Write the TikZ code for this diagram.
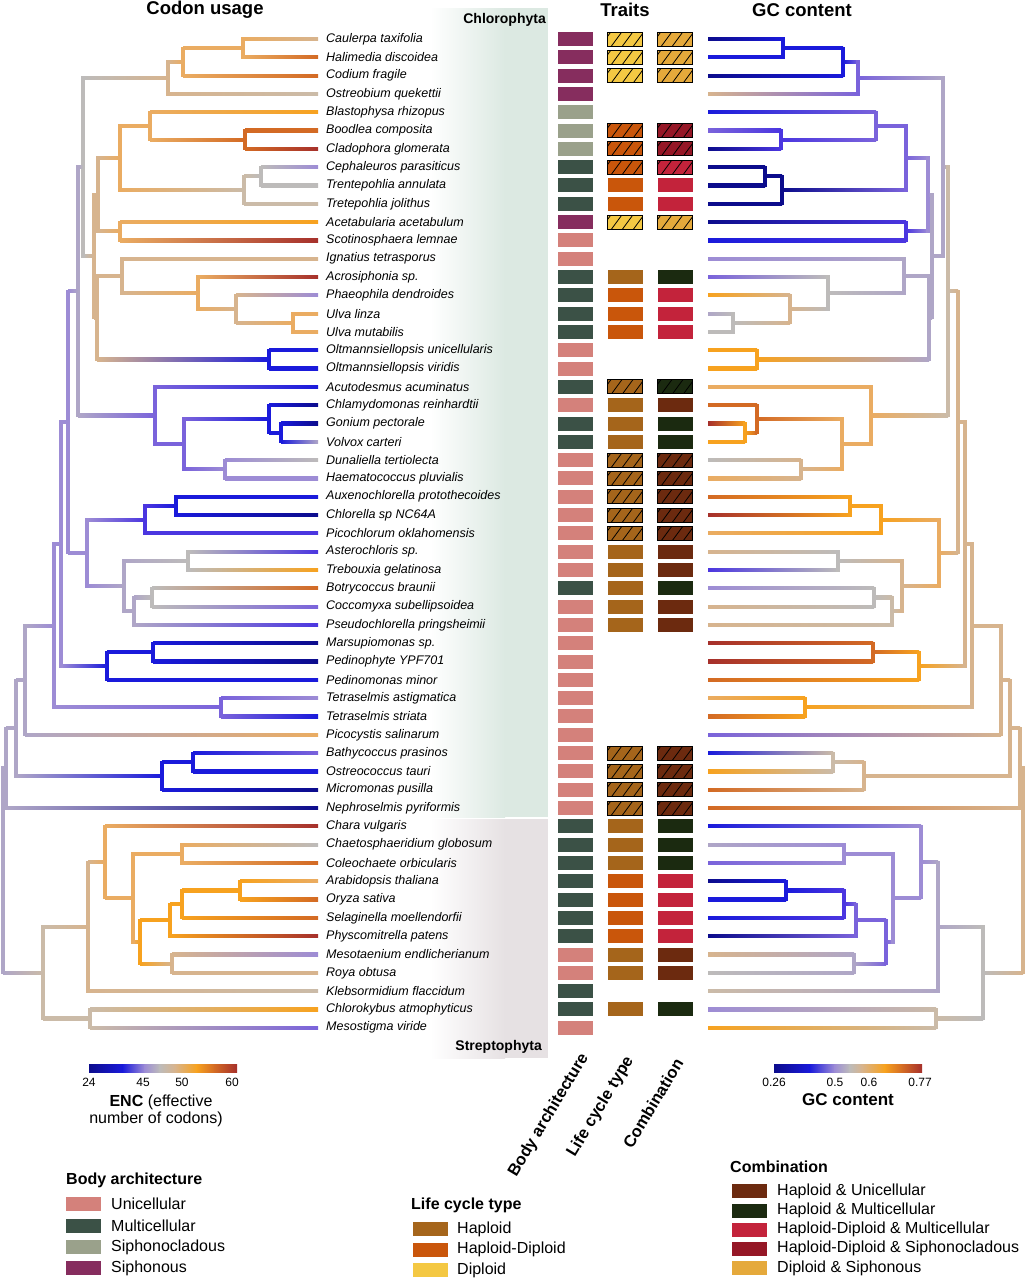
\documentclass[tikz,border=0pt]{standalone}
\usepackage{fontspec}
\setmainfont{Liberation Sans}
\usetikzlibrary{calc}
% palette
\definecolor{pNV}{HTML}{0C0C8C}
\definecolor{pBL}{HTML}{1A1ADB}
\definecolor{pVB}{HTML}{4B36E0}
\definecolor{pVI}{HTML}{7A63DB}
\definecolor{pPU}{HTML}{9D8CD5}
\definecolor{pLV}{HTML}{AFA6C7}
\definecolor{pGY}{HTML}{BDBBBA}
\definecolor{pGT}{HTML}{CBBBA8}
\definecolor{pTN}{HTML}{D7B48E}
\definecolor{pLO}{HTML}{EAAC62}
\definecolor{pOR}{HTML}{F7A21F}
\definecolor{pDO}{HTML}{D36A24}
\definecolor{pRD}{HTML}{A6302B}
% traits
\definecolor{bU}{HTML}{D4817B}
\definecolor{bM}{HTML}{3B5146}
\definecolor{bSc}{HTML}{9AA18B}
\definecolor{bSp}{HTML}{862D5E}
\definecolor{lH}{HTML}{A5651B}
\definecolor{lHD}{HTML}{C9560B}
\definecolor{lD}{HTML}{F4C843}
\definecolor{cHU}{HTML}{6C2A0F}
\definecolor{cHM}{HTML}{1B2A10}
\definecolor{cHDM}{HTML}{C3233B}
\definecolor{cHDS}{HTML}{951726}
\definecolor{cDS}{HTML}{E5A93B}
\definecolor{bgG}{HTML}{DCE9E2}
\definecolor{bgS}{HTML}{E6E1E3}
\newcommand\mkC[3]{\colorlet{cL#1}{#2}\colorlet{cR#1}{#3}}
% tip colours (left ENC / right GC)
\mkC{t1}{pTN}{pNV}\mkC{t2}{pDO}{pBL}\mkC{t3}{pDO}{pNV}\mkC{t4}{pGT}{pTN}
\mkC{t5}{pOR}{pBL}\mkC{t6}{pDO}{pVI}\mkC{t7}{pRD}{pNV}\mkC{t8}{pPU}{pNV}
\mkC{t9}{pGY}{pNV}\mkC{t10}{pGT}{pNV}\mkC{t11}{pOR}{pNV}\mkC{t12}{pRD}{pBL}
\mkC{t13}{pTN}{pPU}\mkC{t14}{pRD}{pVI}\mkC{t15}{pPU}{pOR}\mkC{t16}{pLO}{pLV}
\mkC{t17}{pLO}{pGY}\mkC{t18}{pBL}{pOR}\mkC{t19}{pBL}{pOR}\mkC{t20}{pBL}{pLO}
\mkC{t21}{pNV}{pDO}\mkC{t22}{pNV}{pRD}\mkC{t23}{pLV}{pOR}\mkC{t24}{pGY}{pGY}
\mkC{t25}{pPU}{pLO}\mkC{t26}{pBL}{pDO}\mkC{t27}{pNV}{pRD}\mkC{t28}{pVB}{pLO}
\mkC{t29}{pVB}{pTN}\mkC{t30}{pOR}{pVB}\mkC{t31}{pDO}{pPU}\mkC{t32}{pVI}{pTN}
\mkC{t33}{pVB}{pTN}\mkC{t34}{pNV}{pRD}\mkC{t35}{pNV}{pRD}\mkC{t36}{pBL}{pDO}
\mkC{t37}{pPU}{pLO}\mkC{t38}{pBL}{pDO}\mkC{t39}{pLO}{pVI}\mkC{t40}{pVI}{pBL}
\mkC{t41}{pBL}{pOR}\mkC{t42}{pNV}{pDO}\mkC{t43}{pNV}{pDO}\mkC{t44}{pRD}{pBL}
\mkC{t45}{pGY}{pLV}\mkC{t46}{pDO}{pVI}\mkC{t47}{pLO}{pNV}\mkC{t48}{pDO}{pBL}
\mkC{t49}{pDO}{pBL}\mkC{t50}{pRD}{pNV}\mkC{t51}{pPU}{pTN}\mkC{t52}{pTN}{pGY}
\mkC{t53}{pGT}{pGT}\mkC{t54}{pOR}{pPU}\mkC{t55}{pVI}{pOR}
% internal node colours
\mkC{A}{pLO}{pBL}\mkC{B}{pLO}{pBL}\mkC{C}{pTN}{pVI}\mkC{D}{pGY}{pLV}
\mkC{K}{pDO}{pVB}\mkC{J}{pLO}{pVI}\mkC{N}{pGY}{pNV}\mkC{M}{pGT}{pNV}
\mkC{L}{pLO}{pVI}\mkC{O}{pLO}{pVB}\mkC{F}{pTN}{pPU}\mkC{S}{pLO}{pGY}
\mkC{R}{pTN}{pTN}\mkC{Q}{pLO}{pGY}\mkC{P}{pTN}{pLV}\mkC{T}{pBL}{pOR}
\mkC{I}{pTN}{pLV}\mkC{H}{pTN}{pLV}\mkC{AG}{pBL}{pOR}\mkC{AF}{pBL}{pDO}
\mkC{AH}{pPU}{pTN}\mkC{AE}{pVI}{pLO}\mkC{V}{pVI}{pLO}\mkC{U}{pLV}{pGT}
\mkC{AJ}{pBL}{pOR}\mkC{AI}{pVB}{pOR}\mkC{AL}{pGY}{pGY}\mkC{AN}{pGY}{pGY}
\mkC{AM}{pLV}{pGT}\mkC{AK}{pLV}{pTN}\mkC{X}{pPU}{pLO}\mkC{W}{pPU}{pTN}
\mkC{AO}{pBL}{pDO}\mkC{Z}{pBL}{pOR}\mkC{Y}{pPU}{pTN}\mkC{TT}{pVI}{pOR}
\mkC{AA}{pPU}{pTN}\mkC{AB}{pLV}{pTN}\mkC{AQ}{pBL}{pGT}\mkC{AP}{pBL}{pTN}
\mkC{AC}{pLV}{pTN}\mkC{AD}{pLV}{pTN}\mkC{BK}{pOR}{pBL}\mkC{BJ}{pOR}{pVB}
\mkC{BH}{pOR}{pVI}\mkC{BI}{pTN}{pLV}\mkC{BG}{pOR}{pVI}\mkC{BF}{pLO}{pPU}
\mkC{BE}{pLO}{pPU}\mkC{BD}{pLO}{pPU}\mkC{BB}{pTN}{pLV}\mkC{BC}{pGT}{pGT}
\mkC{BA}{pGT}{pGY}\mkC{RT}{pLV}{pTN}
% helpers
\newcommand\rowy[1]{39+(#1-1)*18.31}
\newcommand\mkN[3]{\coordinate (L#1) at ({318-#2},{\rowy{#3}});\coordinate (R#1) at ({708+#2},{\rowy{#3}});}
\newcommand\mkE[2]{%
 \shade[left color=cL#1,right color=cL#2] ($(L#1|-L#2)+(0,-1.6)$) rectangle ($(L#2)+(0,1.6)$);
 \shade[left color=cR#2,right color=cR#1] ($(R#2)+(0,-1.6)$) rectangle ($(R#1|-R#2)+(0,1.6)$);}
\newcommand\mkK[3]{\mkE{#1}{#2}\mkE{#1}{#3}%
 \draw[vline,color=cL#1] (L#1|-L#2) -- (L#1|-L#3);
 \draw[vline,color=cR#1] (R#1|-R#2) -- (R#1|-R#3);}
\newcommand\mkT[2]{\mkN{t#1}{0}{#1}\node[lab] (lab#1) at (326,{\rowy{#1}}) {#2};}
\newcommand\tbBody[2]{\node[tb,fill=#2] (body#1) at (575.5,{\rowy{#1}}) {};}
\newcommand\tbLife[3]{\node[tb,fill=#2,#3] (life#1) at (625,{\rowy{#1}}) {};}
\newcommand\tbComb[3]{\node[tb,fill=#2,#3] (comb#1) at (675,{\rowy{#1}}) {};}
\newcommand\cbseg[5]{\shade[left color=#4,right color=#5] (#1,1064) rectangle (#2,1072);}
\begin{document}
\begin{tikzpicture}[x=1pt,y=-1pt,
 vline/.style={line width=3.2pt,line cap=rect},
 lab/.style={anchor=west,inner sep=0pt,font=\fontsize{12.5}{14}\selectfont\itshape},
 tb/.style={minimum width=35pt,minimum height=14pt,inner sep=0pt,draw=none},
 hat/.style={draw=black,line width=0.9pt,path picture={
   \foreach \k in {-7,4,15,26}{\draw[line width=0.8pt,black] ($(path picture bounding box.south west)+(\k,0)$) -- ++(11,-15);}}},
 head/.style={font=\fontsize{18.5}{20}\selectfont\bfseries,inner sep=0pt},
 clade/.style={font=\fontsize{14}{16}\selectfont\bfseries,inner sep=0pt,anchor=east},
 tick/.style={font=\fontsize{12}{14}\selectfont,inner sep=0pt},
 rot/.style={font=\fontsize{16.5}{18}\selectfont\bfseries,inner sep=0pt,rotate=59,anchor=east},
 lgt/.style={font=\fontsize{16}{18}\selectfont\bfseries,inner sep=0pt,anchor=west},
 lgl/.style={font=\fontsize{16}{18}\selectfont,inner sep=0pt,anchor=west},
 lgb/.style={minimum width=35pt,minimum height=14pt,inner sep=0pt,draw=none}]
\useasboundingbox (0,0) rectangle (1027,1280);
% clade backgrounds
\shade[left color=white,right color=bgG] (430,8) rectangle (505,817);
\fill[bgG] (504.5,8) rectangle (548,817);
\shade[left color=white,right color=bgS] (430,819) rectangle (505,1058);
\fill[bgS] (504.5,819) rectangle (548,1058);
\node[clade] (hchl) at (546,20) {Chlorophyta};
\node[clade] (hstr) at (542,1047) {Streptophyta};
% headers
\node[head] (hcodon) at (205,10) {Codon usage};
\node[head] (htraits) at (625,10) {Traits};
\node[head] (hgc) at (802,10) {GC content};
% tips and labels
\mkT{1}{Caulerpa taxifolia}
\mkT{2}{Halimedia discoidea}
\mkT{3}{Codium fragile}
\mkT{4}{Ostreobium quekettii}
\mkT{5}{Blastophysa rhizopus}
\mkT{6}{Boodlea composita}
\mkT{7}{Cladophora glomerata}
\mkT{8}{Cephaleuros parasiticus}
\mkT{9}{Trentepohlia annulata}
\mkT{10}{Tretepohlia jolithus}
\mkT{11}{Acetabularia acetabulum}
\mkT{12}{Scotinosphaera lemnae}
\mkT{13}{Ignatius tetrasporus}
\mkT{14}{Acrosiphonia sp.}
\mkT{15}{Phaeophila dendroides}
\mkT{16}{Ulva linza}
\mkT{17}{Ulva mutabilis}
\mkT{18}{Oltmannsiellopsis unicellularis}
\mkT{19}{Oltmannsiellopsis viridis}
\mkT{20}{Acutodesmus acuminatus}
\mkT{21}{Chlamydomonas reinhardtii}
\mkT{22}{Gonium pectorale}
\mkT{23}{Volvox carteri}
\mkT{24}{Dunaliella tertiolecta}
\mkT{25}{Haematococcus pluvialis}
\mkT{26}{Auxenochlorella protothecoides}
\mkT{27}{Chlorella sp NC64A}
\mkT{28}{Picochlorum oklahomensis}
\mkT{29}{Asterochloris sp.}
\mkT{30}{Trebouxia gelatinosa}
\mkT{31}{Botrycoccus braunii}
\mkT{32}{Coccomyxa subellipsoidea}
\mkT{33}{Pseudochlorella pringsheimii}
\mkT{34}{Marsupiomonas sp.}
\mkT{35}{Pedinophyte YPF701}
\mkT{36}{Pedinomonas minor}
\mkT{37}{Tetraselmis astigmatica}
\mkT{38}{Tetraselmis striata}
\mkT{39}{Picocystis salinarum}
\mkT{40}{Bathycoccus prasinos}
\mkT{41}{Ostreococcus tauri}
\mkT{42}{Micromonas pusilla}
\mkT{43}{Nephroselmis pyriformis}
\mkT{44}{Chara vulgaris}
\mkT{45}{Chaetosphaeridium globosum}
\mkT{46}{Coleochaete orbicularis}
\mkT{47}{Arabidopsis thaliana}
\mkT{48}{Oryza sativa}
\mkT{49}{Selaginella moellendorfii}
\mkT{50}{Physcomitrella patens}
\mkT{51}{Mesotaenium endlicherianum}
\mkT{52}{Roya obtusa}
\mkT{53}{Klebsormidium flaccidum}
\mkT{54}{Chlorokybus atmophyticus}
\mkT{55}{Mesostigma viride}
% internal nodes: name, depth, row
\mkN{A}{75}{1.5}\mkN{B}{135}{2.25}\mkN{C}{150}{3.125}
\mkN{K}{73}{6.5}\mkN{J}{168}{5.75}\mkN{N}{57}{8.5}\mkN{M}{74}{9.25}
\mkN{L}{198}{7.5}\mkN{O}{198}{11.5}\mkN{F}{220}{9.5}
\mkN{S}{25}{16.5}\mkN{R}{82}{15.75}\mkN{Q}{120}{14.875}\mkN{P}{196}{13.9375}
\mkN{T}{49}{18.5}\mkN{I}{221}{16.21875}\mkN{H}{224}{12.859375}\mkN{D}{235}{7.9921875}
\mkN{AG}{37}{22.5}\mkN{AF}{49}{21.75}\mkN{AH}{93}{24.5}\mkN{AE}{134}{23.125}
\mkN{V}{163}{21.5625}\mkN{U}{240}{14.77734}
\mkN{AJ}{142}{26.5}\mkN{AI}{173}{27.25}\mkN{AL}{130}{29.5}\mkN{AN}{166}{31.5}
\mkN{AM}{184}{32.25}\mkN{AK}{194}{30.875}\mkN{X}{231}{29.0625}\mkN{W}{250}{21.91992}
\mkN{AO}{165}{34.5}\mkN{Z}{211}{35.25}\mkN{Y}{257}{28.58496}
\mkN{TT}{97}{37.5}\mkN{AA}{264}{33.04248}\mkN{AB}{293}{36.02124}
\mkN{AQ}{125}{40.5}\mkN{AP}{156}{41.25}\mkN{AC}{302}{38.63562}\mkN{AD}{312}{40.81781}
\mkN{BK}{78}{47.5}\mkN{BJ}{136}{48.25}\mkN{BH}{148}{49.125}\mkN{BI}{146}{51.5}
\mkN{BG}{178}{50.3125}\mkN{BF}{136}{45.5}\mkN{BE}{185}{47.90625}\mkN{BD}{213}{45.953125}
\mkN{BB}{230}{49.4765625}\mkN{BC}{228}{54.5}\mkN{BA}{275}{51.98828}
\mkN{RT}{315}{46.40305}
% branches: parent, child1, child2
\mkK{A}{t1}{t2}\mkK{B}{A}{t3}\mkK{C}{B}{t4}
\mkK{K}{t6}{t7}\mkK{J}{t5}{K}\mkK{N}{t8}{t9}\mkK{M}{N}{t10}\mkK{L}{J}{M}
\mkK{O}{t11}{t12}\mkK{F}{L}{O}
\mkK{S}{t16}{t17}\mkK{R}{t15}{S}\mkK{Q}{t14}{R}\mkK{P}{t13}{Q}
\mkK{T}{t18}{t19}\mkK{I}{P}{T}\mkK{H}{F}{I}\mkK{D}{C}{H}
\mkK{AG}{t22}{t23}\mkK{AF}{t21}{AG}\mkK{AH}{t24}{t25}\mkK{AE}{AF}{AH}
\mkK{V}{t20}{AE}\mkK{U}{D}{V}
\mkK{AJ}{t26}{t27}\mkK{AI}{AJ}{t28}\mkK{AL}{t29}{t30}\mkK{AN}{t31}{t32}
\mkK{AM}{AN}{t33}\mkK{AK}{AL}{AM}\mkK{X}{AI}{AK}\mkK{W}{U}{X}
\mkK{AO}{t34}{t35}\mkK{Z}{AO}{t36}\mkK{Y}{W}{Z}
\mkK{TT}{t37}{t38}\mkK{AA}{Y}{TT}\mkK{AB}{AA}{t39}
\mkK{AQ}{t40}{t41}\mkK{AP}{AQ}{t42}\mkK{AC}{AB}{AP}\mkK{AD}{AC}{t43}
\mkK{BK}{t47}{t48}\mkK{BJ}{BK}{t49}\mkK{BH}{BJ}{t50}\mkK{BI}{t51}{t52}
\mkK{BG}{BH}{BI}\mkK{BF}{t45}{t46}\mkK{BE}{BF}{BG}\mkK{BD}{t44}{BE}
\mkK{BB}{BD}{t53}\mkK{BC}{t54}{t55}\mkK{BA}{BB}{BC}
\mkK{RT}{AD}{BA}
% traits
\tbBody{1}{bSp}\tbLife{1}{lD}{hat}\tbComb{1}{cDS}{hat}
\tbBody{2}{bSp}\tbLife{2}{lD}{hat}\tbComb{2}{cDS}{hat}
\tbBody{3}{bSp}\tbLife{3}{lD}{hat}\tbComb{3}{cDS}{hat}
\tbBody{4}{bSp}
\tbBody{5}{bSc}
\tbBody{6}{bSc}\tbLife{6}{lHD}{hat}\tbComb{6}{cHDS}{hat}
\tbBody{7}{bSc}\tbLife{7}{lHD}{hat}\tbComb{7}{cHDS}{hat}
\tbBody{8}{bM}\tbLife{8}{lHD}{hat}\tbComb{8}{cHDM}{hat}
\tbBody{9}{bM}\tbLife{9}{lHD}{}\tbComb{9}{cHDM}{}
\tbBody{10}{bM}\tbLife{10}{lHD}{}\tbComb{10}{cHDM}{}
\tbBody{11}{bSp}\tbLife{11}{lD}{hat}\tbComb{11}{cDS}{hat}
\tbBody{12}{bU}
\tbBody{13}{bU}
\tbBody{14}{bM}\tbLife{14}{lH}{}\tbComb{14}{cHM}{}
\tbBody{15}{bM}\tbLife{15}{lHD}{}\tbComb{15}{cHDM}{}
\tbBody{16}{bM}\tbLife{16}{lHD}{}\tbComb{16}{cHDM}{}
\tbBody{17}{bM}\tbLife{17}{lHD}{}\tbComb{17}{cHDM}{}
\tbBody{18}{bU}
\tbBody{19}{bU}
\tbBody{20}{bM}\tbLife{20}{lH}{hat}\tbComb{20}{cHM}{hat}
\tbBody{21}{bU}\tbLife{21}{lH}{}\tbComb{21}{cHU}{}
\tbBody{22}{bM}\tbLife{22}{lH}{}\tbComb{22}{cHM}{}
\tbBody{23}{bM}\tbLife{23}{lH}{}\tbComb{23}{cHM}{}
\tbBody{24}{bU}\tbLife{24}{lH}{hat}\tbComb{24}{cHU}{hat}
\tbBody{25}{bU}\tbLife{25}{lH}{hat}\tbComb{25}{cHU}{hat}
\tbBody{26}{bU}\tbLife{26}{lH}{hat}\tbComb{26}{cHU}{hat}
\tbBody{27}{bU}\tbLife{27}{lH}{hat}\tbComb{27}{cHU}{hat}
\tbBody{28}{bU}\tbLife{28}{lH}{hat}\tbComb{28}{cHU}{hat}
\tbBody{29}{bU}\tbLife{29}{lH}{}\tbComb{29}{cHU}{}
\tbBody{30}{bU}\tbLife{30}{lH}{}\tbComb{30}{cHU}{}
\tbBody{31}{bM}\tbLife{31}{lH}{}\tbComb{31}{cHM}{}
\tbBody{32}{bU}\tbLife{32}{lH}{}\tbComb{32}{cHU}{}
\tbBody{33}{bU}\tbLife{33}{lH}{}\tbComb{33}{cHU}{}
\tbBody{34}{bU}\tbBody{35}{bU}\tbBody{36}{bU}\tbBody{37}{bU}\tbBody{38}{bU}\tbBody{39}{bU}
\tbBody{40}{bU}\tbLife{40}{lH}{hat}\tbComb{40}{cHU}{hat}
\tbBody{41}{bU}\tbLife{41}{lH}{hat}\tbComb{41}{cHU}{hat}
\tbBody{42}{bU}\tbLife{42}{lH}{hat}\tbComb{42}{cHU}{hat}
\tbBody{43}{bU}\tbLife{43}{lH}{hat}\tbComb{43}{cHU}{hat}
\tbBody{44}{bM}\tbLife{44}{lH}{}\tbComb{44}{cHM}{}
\tbBody{45}{bM}\tbLife{45}{lH}{}\tbComb{45}{cHM}{}
\tbBody{46}{bM}\tbLife{46}{lH}{}\tbComb{46}{cHM}{}
\tbBody{47}{bM}\tbLife{47}{lHD}{}\tbComb{47}{cHDM}{}
\tbBody{48}{bM}\tbLife{48}{lHD}{}\tbComb{48}{cHDM}{}
\tbBody{49}{bM}\tbLife{49}{lHD}{}\tbComb{49}{cHDM}{}
\tbBody{50}{bM}\tbLife{50}{lHD}{}\tbComb{50}{cHDM}{}
\tbBody{51}{bU}\tbLife{51}{lH}{}\tbComb{51}{cHU}{}
\tbBody{52}{bU}\tbLife{52}{lH}{}\tbComb{52}{cHU}{}
\tbBody{53}{bM}
\tbBody{54}{bM}\tbLife{54}{lH}{}\tbComb{54}{cHM}{}
\tbBody{55}{bU}
% rotated column labels
\node[rot] (rbody) at (585,1055) {Body architecture};
\node[rot] (rlife) at (630,1058) {Life cycle type};
\node[rot] (rcomb) at (679,1060) {Combination};
% ENC colour bar
\cbseg{89}{123}{}{pNV}{pBL}\cbseg{122.5}{145}{}{pBL}{pPU}\cbseg{144.5}{160}{}{pPU}{pGY}
\cbseg{159.5}{175}{}{pGY}{pTN}\cbseg{174.5}{197}{}{pTN}{pOR}\cbseg{196.5}{215}{}{pOR}{pDO}
\cbseg{214.5}{237}{}{pDO}{pRD}
\node[tick] (e24) at (89,1082) {24};
\node[tick] (e45) at (143,1082) {45};
\node[tick] (e50) at (182,1082) {50};
\node[tick] (e60) at (232,1082) {60};
\node[font=\fontsize{16}{18}\selectfont,inner sep=0pt] (enc1) at (161,1102) {\textbf{ENC} (effective};
\node[font=\fontsize{16}{18}\selectfont,inner sep=0pt] (enc2) at (156,1119) {number of codons)};
% GC colour bar
\cbseg{774}{810}{}{pNV}{pBL}\cbseg{809.5}{835}{}{pBL}{pPU}\cbseg{834.5}{850}{}{pPU}{pGY}
\cbseg{849.5}{862}{}{pGY}{pTN}\cbseg{861.5}{885}{}{pTN}{pOR}\cbseg{884.5}{903}{}{pOR}{pDO}
\cbseg{902.5}{922}{}{pDO}{pRD}
\node[tick] (g26) at (774,1082) {0.26};
\node[tick] (g50) at (835,1082) {0.5};
\node[tick] (g60) at (869,1082) {0.6};
\node[tick] (g77) at (920,1082) {0.77};
\node[font=\fontsize{17}{19}\selectfont\bfseries,inner sep=0pt] (gcl) at (848,1100) {GC content};
% legends
\node[lgt] (lbt) at (66,1180) {Body architecture};
\node[lgb,fill=bU] (lb1) at (83.5,1204) {};\node[lgl] (lbl1) at (111,1204) {Unicellular};
\node[lgb,fill=bM] (lb2) at (83.5,1225.5) {};\node[lgl] (lbl2) at (111,1225.5) {Multicellular};
\node[lgb,fill=bSc] (lb3) at (83.5,1247) {};\node[lgl] (lbl3) at (111,1247) {Siphonocladous};
\node[lgb,fill=bSp] (lb4) at (83.5,1268) {};\node[lgl] (lbl4) at (111,1268) {Siphonous};
\node[lgt] (llt) at (411,1205) {Life cycle type};
\node[lgb,fill=lH] (ll1) at (430.5,1229) {};\node[lgl] (lll1) at (457,1229) {Haploid};
\node[lgb,fill=lHD] (ll2) at (430.5,1249.5) {};\node[lgl] (lll2) at (457,1249.5) {Haploid-Diploid};
\node[lgb,fill=lD] (ll3) at (430.5,1270) {};\node[lgl] (lll3) at (457,1270) {Diploid};
\node[lgt] (lct) at (730,1167) {Combination};
\node[lgb,fill=cHU] (lc1) at (749.5,1191) {};\node[lgl] (lcl1) at (777,1191) {Haploid \& Unicellular};
\node[lgb,fill=cHM] (lc2) at (749.5,1210.5) {};\node[lgl] (lcl2) at (777,1210.5) {Haploid \& Multicellular};
\node[lgb,fill=cHDM] (lc3) at (749.5,1229.5) {};\node[lgl] (lcl3) at (777,1229.5) {Haploid-Diploid \& Multicellular};
\node[lgb,fill=cHDS] (lc4) at (749.5,1248.5) {};\node[lgl] (lcl4) at (777,1248.5) {Haploid-Diploid \& Siphonocladous};
\node[lgb,fill=cDS] (lc5) at (749.5,1268) {};\node[lgl] (lcl5) at (777,1268) {Diploid \& Siphonous};
\end{tikzpicture}
\end{document}
